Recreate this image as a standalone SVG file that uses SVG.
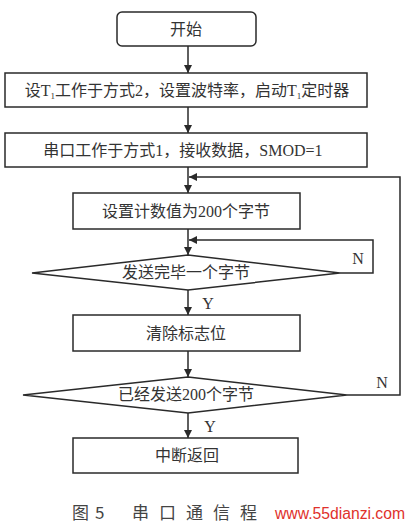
<svg xmlns="http://www.w3.org/2000/svg" width="410" height="528" viewBox="0 0 410 528">
<defs>
<style>
.box{fill:#fff;stroke:#2a2a2a;stroke-width:1.5}
.ln{fill:none;stroke:#2a2a2a;stroke-width:1.5}
.t{font-family:"Liberation Serif","Noto Sans CJK SC",serif;font-size:16px;fill:#333;text-anchor:middle}
.lbl{font-family:"Liberation Serif",serif;font-size:16px;fill:#333;text-anchor:middle}
.cap{font-family:"Noto Sans CJK SC",sans-serif;font-size:17px;fill:#444}
.wm{font-family:"Liberation Sans",Arial,sans-serif;font-size:16px;fill:#e0312b}
</style>
<marker id="ah" viewBox="0 0 10 10" refX="10" refY="5" markerWidth="8" markerHeight="8" markerUnits="userSpaceOnUse" orient="auto">
<path d="M0,0 L10,5 L0,10 Z" fill="#2a2a2a"/>
</marker>
</defs>
<rect width="410" height="528" fill="#fff"/>

<g id="start">
<rect class="box" x="117" y="12" width="139" height="34" rx="5"/>
<text class="t" x="186" y="35" font-size="15">开始</text>
</g>
<g id="setT1">
<rect class="box" x="5" y="73" width="362" height="34"/>
<text class="t" x="187" y="96">设T<tspan font-size="9" dy="3">1</tspan><tspan dy="-3">工作于方式2，设置波特率，启动T</tspan><tspan font-size="9" dy="3">1</tspan><tspan dy="-3">定时器</tspan></text>
</g>
<g id="serial">
<rect class="box" x="5" y="133" width="362" height="34"/>
<text class="t" x="183" y="156">串口工作于方式1，接收数据，SMOD=1</text>
</g>
<g id="count">
<rect class="box" x="73" y="193" width="227" height="36"/>
<text class="t" x="186" y="217">设置计数值为200个字节</text>
</g>
<g id="dec1">
<polygon class="box" points="188,255 340,273 188,290 32,273"/>
<text class="t" x="186" y="278">发送完毕一个字节</text>
</g>
<g id="clear">
<rect class="box" x="73" y="315" width="227" height="36"/>
<text class="t" x="186" y="339">清除标志位</text>
</g>
<g id="dec2">
<polygon class="box" points="188,377 347,395 188,413 23,395"/>
<text class="t" x="186" y="400">已经发送200个字节</text>
</g>
<g id="ret">
<rect class="box" x="73" y="438" width="225" height="35"/>
<text class="t" x="187" y="461">中断返回</text>
</g>

<g id="connectors">
<line class="ln" x1="188" y1="46" x2="188" y2="73" marker-end="url(#ah)"/>
<line class="ln" x1="188" y1="107" x2="188" y2="133" marker-end="url(#ah)"/>
<line class="ln" x1="188" y1="167" x2="188" y2="193" marker-end="url(#ah)"/>
<line class="ln" x1="188" y1="229" x2="188" y2="255" marker-end="url(#ah)"/>
<line class="ln" x1="188" y1="290" x2="188" y2="315" marker-end="url(#ah)"/>
<line class="ln" x1="188" y1="351" x2="188" y2="377" marker-end="url(#ah)"/>
<line class="ln" x1="188" y1="413" x2="188" y2="438" marker-end="url(#ah)"/>
<polyline class="ln" points="340,273 373,273 373,240 189,240" marker-end="url(#ah)"/>
<polyline class="ln" points="347,395 400,395 400,177 189,177" marker-end="url(#ah)"/>
<text class="lbl" x="208" y="309">Y</text>
<text class="lbl" x="210" y="432">Y</text>
<text class="lbl" x="358" y="264">N</text>
<text class="lbl" x="382" y="388">N</text>
</g>

<g id="caption">
<text class="cap" x="72" y="519">图</text>
<text class="cap" x="95" y="519">5</text>
<text class="cap" x="132" y="519" letter-spacing="10">串口通信程</text>
<text class="wm" x="275" y="519" textLength="130" lengthAdjust="spacingAndGlyphs">www.55dianzi.com</text>
</g>
</svg>
